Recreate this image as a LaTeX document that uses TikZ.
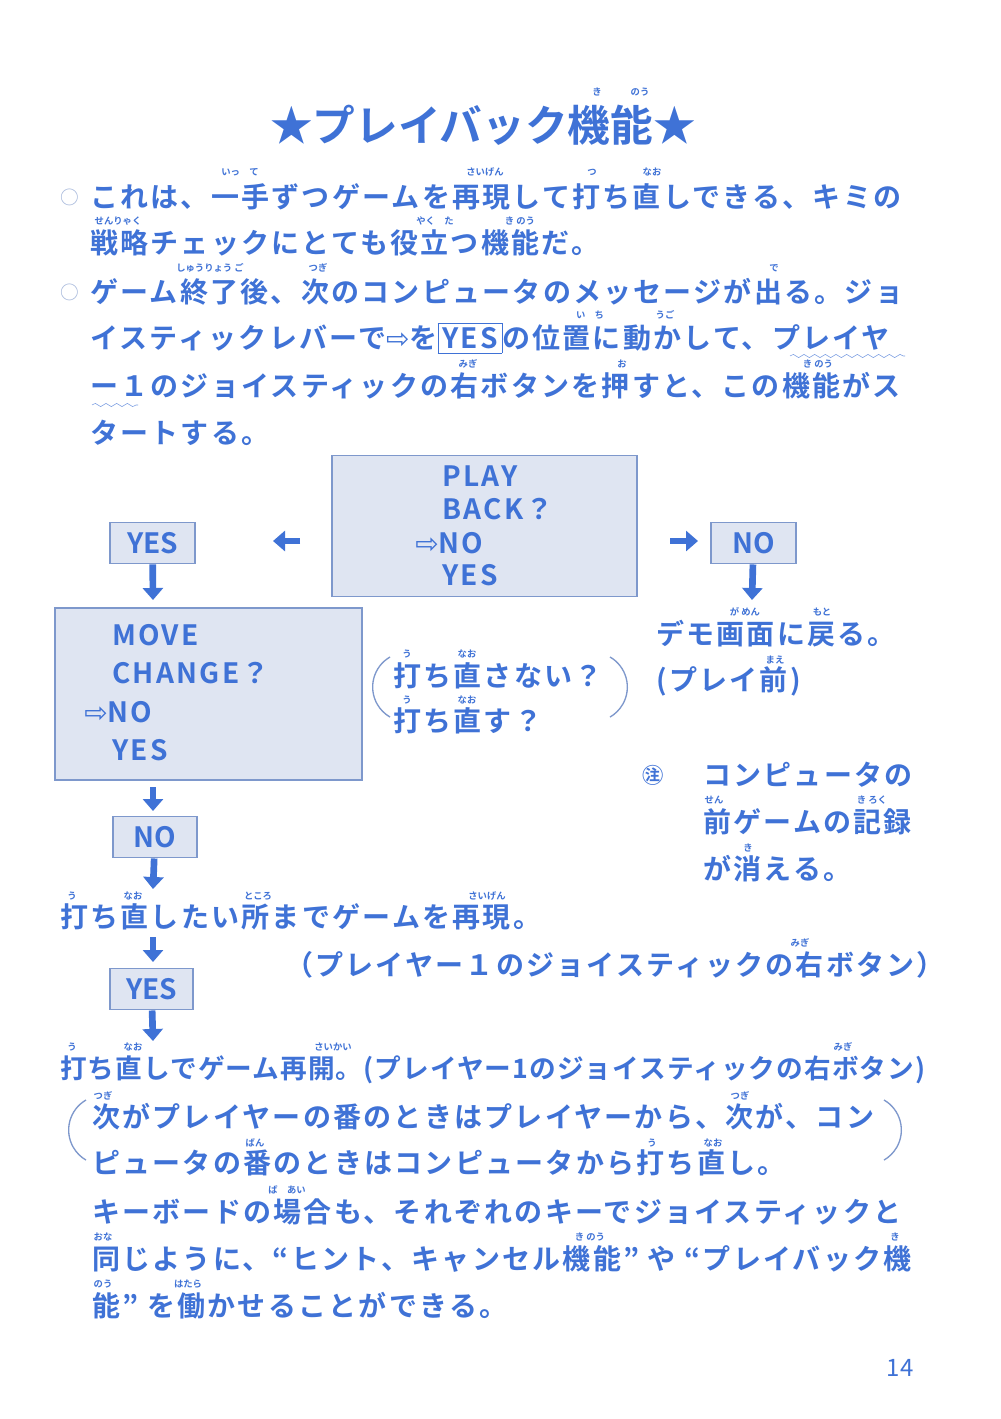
\documentclass[tikz,border=0pt]{standalone}
\usepackage{fontspec}
\setmainfont{Noto Sans CJK JP}[BoldFont=* Bold]
\newfontfamily\sym{DejaVu Sans}
\usetikzlibrary{arrows.meta,decorations.pathmorphing}
\definecolor{ink}{HTML}{3F72D6}
\definecolor{boxfill}{HTML}{DFE5F2}
\definecolor{boxline}{HTML}{7E98CC}
\newcommand{\hand}{{\sym\mdseries ⇨}}
\tikzset{
  txt/.style={anchor=west,inner sep=0,text=ink,font=\fontsize{21}{21}\selectfont\bfseries\addfontfeature{LetterSpace=8}},
  furi/.style={inner sep=0,text=ink,font=\fontsize{7}{7}\selectfont\bfseries},
  scr/.style={draw=boxline,fill=boxfill,line width=1.2pt},
  sel/.style={draw=boxline,fill=boxfill,line width=1.2pt,text=ink,minimum height=31pt,inner sep=0,font=\fontsize{21}{21}\selectfont\bfseries},
  arr/.style={ink,line width=5pt,-{Triangle[length=9pt,width=15pt]}},
  par/.style={boxline,line width=1pt},
}
\begin{document}
\begin{tikzpicture}[x=0.75pt,y=-0.75pt]
\useasboundingbox (0,0) rectangle (1000,1419);
\fill[white] (0,0) rectangle (1000,1419);
% title
\node[inner sep=0,text=ink,font=\fontsize{32}{32}\selectfont\bfseries] (title) at (483,125) {★プレイバック機能★};
\node[furi] (f0) at (597,92) {き}; \node[furi] (f0b) at (640,92) {のう};
% paragraph
\node[text=boxline!70,font=\fontsize{14}{14}\selectfont] (b1) at (70,197) {○};
\node[text=boxline!70,font=\fontsize{14}{14}\selectfont] (b2) at (70,292) {○};
\node[txt] (l1) at (90,197) {これは、一手ずつゲームを再現して打ち直しできる、キミの};
\node[txt] (l2) at (90,243) {戦略チェックにとても役立つ機能だ。};
\node[txt] (l3) at (90,292) {ゲーム終了後、次のコンピュータのメッセージが出る。ジョ};
\node[txt] (l4) at (90,338) {イスティックレバーで\hand を\fbox{YES}の位置に動かして、プレイヤ};
\node[txt] (l5) at (90,386) {ー１のジョイスティックの右ボタンを押すと、この機能がス};
\node[txt] (l6) at (90,433) {タートする。};
\draw[ink!70,decorate,decoration={snake,amplitude=1.2pt,segment length=8pt}] (790,356) -- (905,356);
\draw[ink!70,decorate,decoration={snake,amplitude=1.2pt,segment length=8pt}] (92,405) -- (138,405);
\node[furi] at (240,172) {いっ\quad て};
\node[furi] at (485,172) {さいげん};
\node[furi] at (592,172) {つ};
\node[furi] at (652,172) {なお};
\node[furi] at (118,221) {せんりゃく};
\node[furi] at (435,221) {やく\quad た};
\node[furi] at (520,221) {き\ のう};
\node[furi] at (210,268) {しゅうりょう\ ご};
\node[furi] at (318,268) {つぎ};
\node[furi] at (774,268) {で};
\node[furi] at (590,315) {い\quad ち};
\node[furi] at (665,315) {うご};
\node[furi] at (468,364) {みぎ};
\node[furi] at (622,364) {お};
\node[furi] at (818,364) {き\ のう};
% diagram
\node[scr,minimum width=229pt,minimum height=106pt] (play) at (484.5,526) {};
\node[txt] (p1) at (442,476) {PLAY};
\node[txt] (p2) at (442,509) {BACK？};
\node[txt] (p3) at (415,543) {\hand NO};
\node[txt] (p4) at (442,575) {YES};
\node[sel,minimum width=64pt] (yes1) at (152.5,543) {YES};
\node[sel,minimum width=64pt] (no1) at (753.5,543) {NO};
\coordinate (la0) at (300,541); \coordinate (la1) at (273,541);
\draw[arr] (la0) -- (la1);
\coordinate (ra0) at (670,541); \coordinate (ra1) at (698,541);
\draw[arr] (ra0) -- (ra1);
\coordinate (d1) at (153,600);
\draw[arr] (yes1) -- (d1);
\coordinate (d2) at (752,600);
\draw[arr] (no1) -- (d2);
\node[scr,minimum width=230pt,minimum height=129pt] (move) at (208.5,694) {};
\node[txt] (m1) at (112,635) {MOVE};
\node[txt] (m2) at (112,673) {CHANGE？};
\node[txt] (m3) at (84,712) {\hand NO};
\node[txt] (m4) at (112,750) {YES};
\draw[par] (390,657) arc[start angle=120,end angle=240,radius=26pt];
\draw[par] (610,657) arc[start angle=60,end angle=-60,radius=26pt];
\node[txt] (q1) at (393,676) {打ち直さない？};
\node[txt] (q2) at (393,721) {打ち直す？};
\node[furi] at (407,654) {う}; \node[furi] at (467,654) {なお};
\node[furi] at (407,700) {う}; \node[furi] at (467,700) {なお};
\node[txt] (demo1) at (656,634) {デモ画面に戻る。};
\node[txt] (demo2) at (656,681) {(プレイ前)};
\node[furi] at (745,612) {が\ めん}; \node[furi] at (822,612) {もと};
\node[furi] at (775,660) {まえ};
\node[text=ink,font=\fontsize{16}{16}\selectfont\bfseries,inner sep=0] (note) at (653,775) {㊟};
\node[txt] (n1) at (703,775) {コンピュータの};
\node[txt] (n2) at (703,822) {前ゲームの記録};
\node[txt] (n3) at (703,869) {が消える。};
\node[furi] at (714,800) {せん}; \node[furi] at (872,800) {き\ ろく};
\node[furi] at (748,848) {き};
\coordinate (d3a) at (153,787); \coordinate (d3b) at (153,811);
\draw[arr] (d3a) -- (d3b);
\node[sel,minimum width=63pt] (no2) at (155,837) {NO};
\coordinate (d4) at (153,889);
\draw[arr] (no2) -- (d4);
\node[txt] (r1) at (60,917) {打ち直したい所までゲームを再現。};
\node[furi] at (72,896) {う}; \node[furi] at (133,896) {なお};
\node[furi] at (258,896) {ところ}; \node[furi] at (487,896) {さいげん};
\coordinate (d5a) at (153,937); \coordinate (d5b) at (153,962);
\draw[arr] (d5a) -- (d5b);
\node[sel,minimum width=62pt] (yes2) at (151.5,989) {YES};
\node[txt] (r2) at (285,965) {（プレイヤー１のジョイスティックの右ボタン）};
\node[furi] at (800,943) {みぎ};
\coordinate (d6) at (153,1041);
\draw[arr] (yes2) -- (d6);
\node[txt,font=\fontsize{20}{20}\selectfont\bfseries\addfontfeature{LetterSpace=4}] (r3) at (60,1070) {打ち直しでゲーム再開。(プレイヤー1のジョイスティックの右ボタン)};
\node[furi] at (72,1047) {う}; \node[furi] at (133,1047) {なお};
\node[furi] at (333,1047) {さいかい}; \node[furi] at (843,1047) {みぎ};
\draw[par] (86,1100) arc[start angle=120,end angle=240,radius=26pt];
\draw[par] (884,1100) arc[start angle=60,end angle=-60,radius=26pt];
\node[txt] (s1) at (92,1117) {次がプレイヤーの番のときはプレイヤーから、次が、コン};
\node[txt] (s2) at (92,1163) {ピュータの番のときはコンピュータから打ち直し。};
\node[furi] at (103,1096) {つぎ}; \node[furi] at (740,1096) {つぎ};
\node[furi] at (255,1143) {ばん}; \node[furi] at (652,1143) {う}; \node[furi] at (713,1143) {なお};
\node[txt] (k1) at (92,1212) {キーボードの場合も、それぞれのキーでジョイスティックと};
\node[txt] (k2) at (92,1259) {同じように、“ヒント、キャンセル機能” や “プレイバック機};
\node[txt] (k3) at (92,1306) {能” を働かせることができる。};
\node[furi] at (287,1190) {ば\quad あい};
\node[furi] at (103,1237) {おな}; \node[furi] at (590,1237) {き\ のう}; \node[furi] at (895,1237) {き};
\node[furi] at (103,1284) {のう}; \node[furi] at (188,1284) {はたら};
\node[text=ink,font=\fontsize{18}{18}\selectfont,inner sep=0] (pg) at (900,1368) {14};
\end{tikzpicture}
\end{document}
